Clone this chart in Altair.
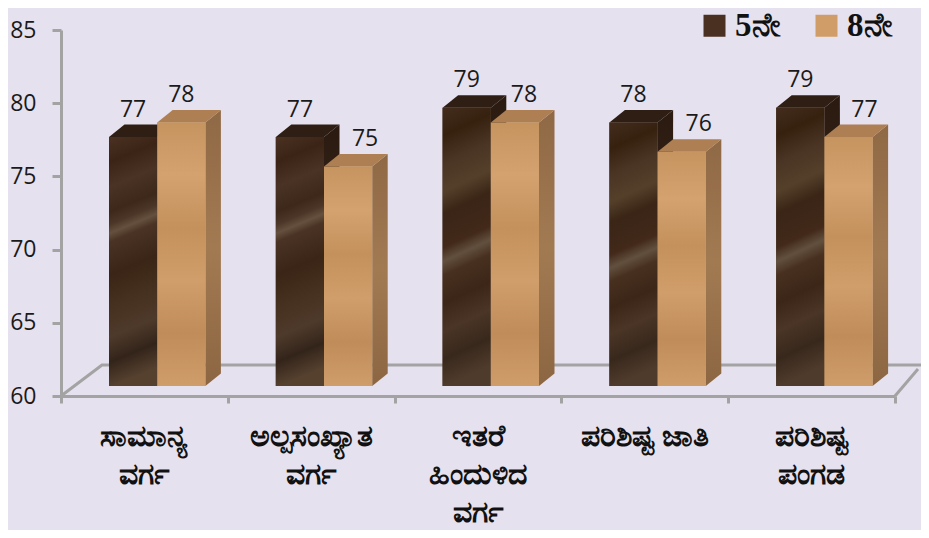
import altair as alt
import pandas as pd

categories = [["ಸಾಮಾನ್ಯ", "ವರ್ಗ"], ["ಅಲ್ಪಸಂಖ್ಯಾತ", "ವರ್ಗ"], ["ಇತರೆ", "ಹಿಂದುಳಿದ", "ವರ್ಗ"], ["ಪರಿಶಿಷ್ಟ ಜಾತಿ"], ["ಪರಿಶಿಷ್ಟ", "ಪಂಗಡ"]]
series_names = ["5ನೇ", "8ನೇ"]
values_5 = [77, 77, 79, 78, 79]
values_8 = [78, 75, 78, 76, 77]
label_shift_5 = [0, 0, 0, 0, 0]
label_shift_8 = [0, 17, 9, 17, 16]

W, H = 834, 366
X_PX = W / 5
Y_PX = H / 25
BAR_START = 48 / X_PX
BAR_W = 48.2 / X_PX
FRONT_DY = 10 / Y_PX
DX = 15.5 / X_PX
DY = 12.5 / Y_PX
BASE = 60

front, side, top, labels = [], [], [], []
for i in range(5):
    for s, vals, shift in ((0, values_5, label_shift_5), (1, values_8, label_shift_8)):
        v = vals[i]
        l = i + BAR_START + s * BAR_W
        r = l + BAR_W
        yt = v + FRONT_DY
        yb = BASE + FRONT_DY
        bid = f"{i}-{s}"
        front.append(dict(series=series_names[s], s=s, i=i, l=l, r=r, yt=yt, yb=yb))
        side += [dict(s=s, bar=bid, x=r, y=yt, y2=yb), dict(s=s, bar=bid, x=r + DX, y=yt + DY, y2=yb + DY)]
        top += [dict(s=s, bar=bid, y=yt, x=l, x2=r), dict(s=s, bar=bid, y=yt + DY, x=l + DX, x2=r + DX)]
        labels.append(dict(s=s, v=v, x=(l + r) / 2 + shift[i] / X_PX, y=yt + DY))

front, side, top, labels = map(pd.DataFrame, (front, side, top, labels))

cat_rows = []
for i, lines in enumerate(categories):
    for j, t in enumerate(lines):
        cat_rows.append(dict(t=t, x=i + 0.5, y=BASE - (41 + 38 * j) / Y_PX))
cat_df = pd.DataFrame(cat_rows)

floor_df = pd.DataFrame([
    dict(g="a", o=0, x=0, y=60), dict(g="a", o=1, x=41 / X_PX, y=60 + 31 / Y_PX),
    dict(g="a", o=2, x=5 + 26 / X_PX, y=60 + 31 / Y_PX),
    dict(g="b", o=0, x=5, y=60), dict(g="b", o=1, x=5 + 23 / X_PX, y=60 + 27 / Y_PX),
])

xs = alt.Scale(domain=[0, 5], range=[0, W], nice=False, zero=False)
ys = alt.Scale(domain=[60, 85], range=[H, 0], nice=False, zero=False)
GREY = "#a3a3a3"


def grad(stops, x2=0.0, y2=1.0):
    return alt.LinearGradient(gradient="linear", x1=0, y1=0, x2=x2, y2=y2,
                              stops=[alt.GradientStop(offset=o, color=c) for o, c in stops])


dark_front_a = grad([(0, "#4a3122"), (.1, "#3b2416"), (.2, "#4a3324"), (.3, "#3d2819"), (.35, "#4c3627"),
                     (.385, "#65503f"), (.42, "#4a3324"), (.55, "#3a2516"), (.68, "#46301f"),
                     (.8, "#4e3a2b"), (.9, "#33241a"), (1, "#56412f")], x2=0.08)
dark_front_b = grad([(0, "#432c1d"), (.1, "#36210f"), (.2, "#4a3424"), (.3, "#54402a"), (.38, "#3a2516"),
                     (.5, "#42291a"), (.55, "#62503f"), (.6, "#483020"), (.7, "#3b2617"),
                     (.8, "#4a3526"), (.9, "#38281c"), (1, "#4f3b2c")], x2=0.08)
tan_front = grad([(0, "#c6945f"), (.2, "#d3a26f"), (.4, "#c4915c"), (.6, "#d09e6a"), (.8, "#c08d5a"), (1, "#cf9d69")])
dark_side = grad([(0, "#2a1a10"), (.5, "#3a261a"), (1, "#33221a")])
tan_side = grad([(0, "#8f6845"), (.5, "#a27a52"), (1, "#8c6642")])
dark_top, tan_top = "#2f1e14", "#ad7f52"

layers = []

floor = alt.Chart(floor_df).mark_line(color=GREY, strokeWidth=3, clip=False).encode(
    x=alt.X("x:Q", scale=xs, axis=alt.Axis(values=[0, 1, 2, 3, 4, 5], labels=False, title=None, grid=False,
                                           domainColor=GREY, domainWidth=3, tickColor=GREY, tickWidth=3, tickSize=7)),
    y=alt.Y("y:Q", scale=ys, axis=alt.Axis(values=[60, 65, 70, 75, 80, 85], title=None, grid=False,
                                           domainColor=GREY, domainWidth=3, tickColor=GREY, tickWidth=3, tickSize=9,
                                           labelFont="Open Sans", labelFontSize=23, labelColor="#1a1a1a", labelPadding=16)),
    detail="g:N", order="o:Q")
layers.append(floor)

legend_bars = alt.Chart(front).mark_rect().encode(
    x=alt.X("l:Q", scale=xs), x2="r:Q", y=alt.Y("yt:Q", scale=ys), y2="yb:Q",
    color=alt.Color("series:N", scale=alt.Scale(domain=series_names, range=["#4a3020", "#d09c68"]),
                    legend=alt.Legend(orient="none", legendX=637, legendY=-21, direction="horizontal", title=None,
                                      symbolType="square", symbolSize=484, symbolStrokeWidth=0, symbolOpacity=1,
                                      columnPadding=29, labelLimit=120,
                                      labelFont="Liberation Serif", labelFontSize=33, labelFontWeight="bold",
                                      labelColor="#111111", labelOffset=4)))
layers.append(legend_bars)

for s, sd, tp in ((0, dark_side, dark_top), (1, tan_side, tan_top)):
    layers.append(alt.Chart(side[side.s == s]).mark_area(color=sd, clip=False, interpolate="linear").encode(
        x=alt.X("x:Q", scale=xs), y=alt.Y("y:Q", scale=ys), y2="y2:Q", detail="bar:N"))
    layers.append(alt.Chart(top[top.s == s]).mark_area(color=tp, orient="horizontal", interpolate="linear").encode(
        y=alt.Y("y:Q", scale=ys), x=alt.X("x:Q", scale=xs), x2="x2:Q", detail="bar:N"))
    if s == 0:
        parts = ((front[(front.s == 0) & (front.i < 2)], dark_front_a), (front[(front.s == 0) & (front.i >= 2)], dark_front_b))
    else:
        parts = ((front[front.s == 1], tan_front),)
    for d, ft in parts:
        layers.append(alt.Chart(d).mark_rect(color=ft).encode(
            x=alt.X("l:Q", scale=xs), x2="r:Q", y=alt.Y("yt:Q", scale=ys), y2="yb:Q"))

layers.append(alt.Chart(labels).mark_text(font="Open Sans", fontSize=23, color="#1a1a1a", dy=-15).encode(
    x=alt.X("x:Q", scale=xs), y=alt.Y("y:Q", scale=ys), text="v:Q"))
layers.append(alt.Chart(cat_df).mark_text(font="Noto Sans", fontSize=30, fontWeight="bold", color="#111111").encode(
    x=alt.X("x:Q", scale=xs), y=alt.Y("y:Q", scale=ys), text="t:N"))

chart = alt.layer(*layers).properties(
    width=W, height=H,
    padding={"left": 53, "top": 22, "right": 26, "bottom": 134},
    autosize=alt.AutoSizeParams(type="none"),
    background="#e6e1ee",
).configure_view(stroke=None)

chart.save("out.html", embed_options={"renderer": "svg", "actions": False})
